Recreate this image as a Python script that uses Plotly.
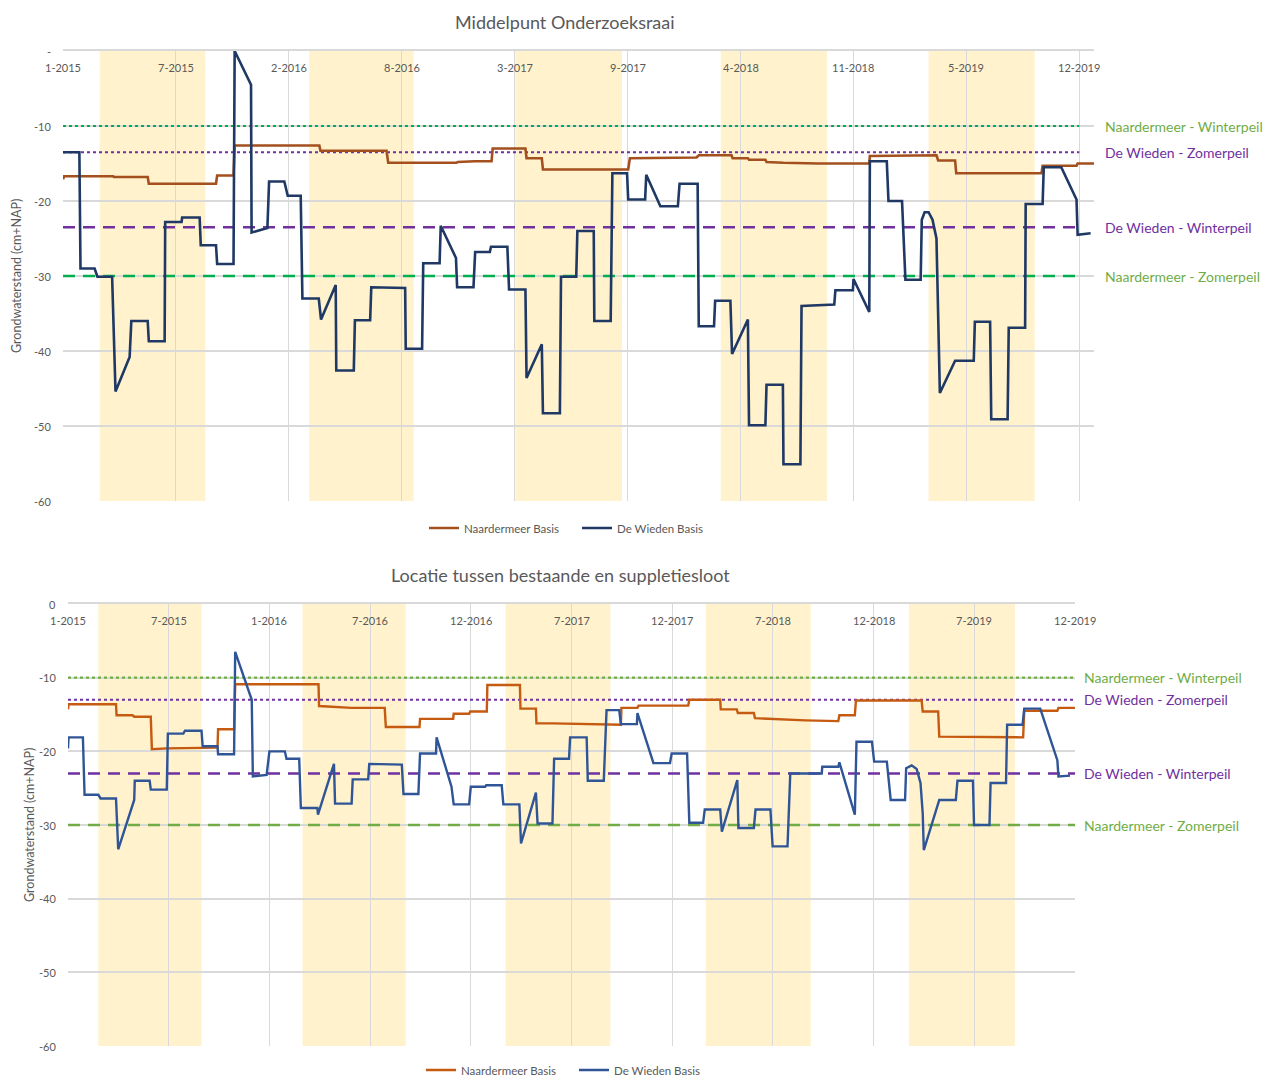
import pandas as pd
import plotly.graph_objects as go

# ---------------- Top chart: Middelpunt Onderzoeksraai ----------------
top_title = "Middelpunt Onderzoeksraai"
top_wieden_dates = [
    "2015-01-01", "2015-01-30", "2015-02-01", "2015-02-26", "2015-03-03", "2015-03-29", "2015-04-04", "2015-04-29",
    "2015-05-02", "2015-05-31", "2015-06-02", "2015-06-30", "2015-07-01", "2015-07-30", "2015-07-31", "2015-08-31",
    "2015-09-02", "2015-09-29", "2015-10-01", "2015-10-30", "2015-11-01", "2015-11-30", "2015-12-01", "2015-12-29",
    "2016-01-01", "2016-01-28", "2016-02-03", "2016-02-26", "2016-02-29", "2016-03-29", "2016-04-02", "2016-04-28",
    "2016-04-29", "2016-05-30", "2016-06-01", "2016-06-28", "2016-06-30", "2016-08-29", "2016-08-30", "2016-09-28",
    "2016-09-30", "2016-10-29", "2016-10-31", "2016-11-27", "2016-11-29", "2016-12-28", "2016-12-31", "2017-01-26",
    "2017-01-28", "2017-02-26", "2017-03-01", "2017-03-30", "2017-04-01", "2017-04-28", "2017-04-30", "2017-05-30",
    "2017-06-01", "2017-06-28", "2017-06-30", "2017-07-29", "2017-07-30", "2017-08-28", "2017-08-31", "2017-09-26",
    "2017-09-28", "2017-10-28", "2017-10-30", "2017-11-24", "2017-12-25", "2017-12-28", "2018-01-29", "2018-01-31",
    "2018-02-27", "2018-03-01", "2018-03-28", "2018-03-31", "2018-04-28", "2018-04-30", "2018-05-29", "2018-05-31",
    "2018-06-29", "2018-06-30", "2018-07-30", "2018-08-01", "2018-09-28", "2018-09-30", "2018-10-31", "2018-11-01",
    "2018-11-29", "2018-11-30", "2018-12-30", "2019-01-02", "2019-01-26", "2019-02-01", "2019-02-28", "2019-03-02",
    "2019-03-07", "2019-03-14", "2019-03-21", "2019-03-28", "2019-04-03", "2019-04-30", "2019-06-02", "2019-06-04",
    "2019-07-01", "2019-07-03", "2019-08-01", "2019-08-03", "2019-09-01", "2019-09-02", "2019-10-02", "2019-10-04",
    "2019-11-04", "2019-12-01", "2019-12-03", "2019-12-26",
]
top_wieden_vals = [
    -13.5, -13.5, -29.0, -29.0, -30.1, -30.1, -45.4, -40.8,
    -36.0, -36.0, -38.7, -38.7, -22.8, -22.8, -22.2, -22.2,
    -25.9, -25.9, -28.4, -28.4, 0.0, -4.5, -24.2, -23.6,
    -17.4, -17.4, -19.3, -19.3, -33.0, -33.0, -35.8, -31.2,
    -42.6, -42.6, -35.9, -35.9, -31.5, -31.6, -39.7, -39.7,
    -28.3, -28.3, -23.3, -27.6, -31.5, -31.5, -26.8, -26.8,
    -26.1, -26.1, -31.8, -31.8, -43.6, -39.1, -48.3, -48.3,
    -30.1, -30.1, -24.0, -24.0, -36.0, -36.0, -16.3, -16.3,
    -19.8, -19.8, -16.5, -20.7, -20.7, -17.7, -17.7, -36.7,
    -36.7, -33.3, -33.3, -40.4, -35.8, -49.9, -49.9, -44.5,
    -44.5, -55.1, -55.1, -34.0, -33.8, -31.9, -31.9, -30.4,
    -34.8, -14.7, -14.7, -20.0, -20.0, -30.5, -30.5, -22.5,
    -21.5, -21.5, -22.5, -25.0, -45.6, -41.3, -41.3, -36.1,
    -36.1, -49.1, -49.1, -36.9, -36.9, -20.4, -20.4, -15.5,
    -15.5, -19.8, -24.5, -24.3,
]
top_naarder_dates = [
    "2015-01-01", "2015-01-03", "2015-03-31", "2015-04-01", "2015-05-31", "2015-06-02", "2015-09-29", "2015-10-01",
    "2015-10-30", "2015-11-01", "2016-03-30", "2016-04-01", "2016-07-27", "2016-07-30", "2016-11-28", "2016-11-30",
    "2016-12-31", "2017-01-29", "2017-01-31", "2017-03-30", "2017-04-01", "2017-04-28", "2017-04-30", "2017-09-28",
    "2017-10-01", "2018-01-27", "2018-01-31", "2018-03-30", "2018-04-01", "2018-04-28", "2018-04-30", "2018-05-29",
    "2018-05-31", "2018-06-29", "2018-06-30", "2018-08-30", "2018-11-29", "2018-11-30", "2019-03-28", "2019-03-31",
    "2019-04-30", "2019-05-02", "2019-09-30", "2019-10-02", "2019-12-01", "2019-12-03", "2020-01-01",
]
top_naarder_vals = [
    -17.1, -16.7, -16.7, -16.8, -16.8, -17.7, -17.7, -16.6,
    -16.6, -12.6, -12.6, -13.3, -13.3, -14.9, -14.9, -14.8,
    -14.7, -14.7, -13.0, -13.0, -14.3, -14.3, -15.8, -15.8,
    -14.3, -14.2, -13.9, -13.9, -14.3, -14.3, -14.5, -14.5,
    -14.8, -14.8, -14.9, -15.0, -15.0, -14.0, -13.9, -14.6,
    -14.6, -16.3, -16.3, -15.3, -15.3, -15.0, -15.0,
]
top_ref_levels = [-10.0, -13.5, -23.5, -30.0]
top_summer_start = ["2015-03-07", "2016-03-12", "2017-03-12", "2018-03-11", "2019-03-14"]
top_summer_end = ["2015-09-10", "2016-09-13", "2017-09-17", "2018-09-15", "2019-09-18"]
top_tick_labels = ["1-2015", "7-2015", "2-2016", "8-2016", "3-2017", "9-2017", "4-2018", "11-2018", "5-2019", "12-2019"]
top_y_ticklabels = ["-60", "-50", "-40", "-30", "-20", "-10", "-"]

# ---------------- Bottom chart: Locatie tussen bestaande en suppletiesloot ----------------
bot_title = "Locatie tussen bestaande en suppletiesloot"
bot_wieden_dates = [
    "2015-01-01", "2015-01-02", "2015-01-28", "2015-01-31", "2015-02-25", "2015-03-01", "2015-03-29", "2015-04-02",
    "2015-05-01", "2015-05-02", "2015-05-29", "2015-05-31", "2015-06-29", "2015-07-01", "2015-07-29", "2015-08-01",
    "2015-08-31", "2015-09-02", "2015-09-29", "2015-09-30", "2015-10-29", "2015-10-31", "2015-11-30", "2015-12-02",
    "2015-12-27", "2016-01-01", "2016-01-29", "2016-02-01", "2016-02-24", "2016-02-27", "2016-03-28", "2016-03-29",
    "2016-04-27", "2016-04-29", "2016-05-29", "2016-05-31", "2016-06-28", "2016-06-30", "2016-08-28", "2016-08-31",
    "2016-09-27", "2016-09-30", "2016-10-29", "2016-10-30", "2016-11-26", "2016-11-30", "2016-12-28", "2016-12-31",
    "2017-01-26", "2017-01-28", "2017-02-25", "2017-02-28", "2017-03-29", "2017-04-01", "2017-04-28", "2017-05-01",
    "2017-05-28", "2017-05-31", "2017-06-27", "2017-06-29", "2017-07-29", "2017-07-31", "2017-08-29", "2017-09-03",
    "2017-09-26", "2017-09-29", "2017-10-28", "2017-10-29", "2017-11-27", "2017-12-27", "2017-12-30", "2018-01-27",
    "2018-01-31", "2018-02-25", "2018-02-28", "2018-03-28", "2018-03-31", "2018-04-28", "2018-04-30", "2018-05-28",
    "2018-05-31", "2018-06-27", "2018-07-01", "2018-07-28", "2018-08-02", "2018-09-28", "2018-09-29", "2018-10-28",
    "2018-10-30", "2018-11-27", "2018-11-30", "2018-12-28", "2019-01-01", "2019-01-24", "2019-01-31", "2019-02-26",
    "2019-02-28", "2019-03-10", "2019-03-19", "2019-03-26", "2019-03-30", "2019-04-01", "2019-04-29", "2019-05-29",
    "2019-06-01", "2019-06-29", "2019-07-01", "2019-07-29", "2019-07-31", "2019-08-28", "2019-08-30", "2019-09-27",
    "2019-09-30", "2019-10-29", "2019-11-29", "2019-12-01", "2019-12-22",
]
bot_wieden_vals = [
    -19.6, -18.1, -18.1, -25.9, -25.9, -26.4, -26.4, -33.3,
    -26.6, -24.0, -24.0, -25.2, -25.2, -17.6, -17.6, -17.2,
    -17.2, -19.3, -19.3, -20.4, -20.4, -6.5, -13.0, -23.4,
    -23.2, -20.0, -20.0, -21.0, -21.0, -27.7, -27.7, -28.6,
    -21.7, -27.1, -27.1, -23.8, -23.8, -21.7, -21.8, -25.8,
    -25.8, -20.3, -20.3, -18.1, -24.8, -27.2, -27.2, -24.8,
    -24.8, -24.6, -24.6, -27.2, -27.2, -32.5, -25.6, -29.8,
    -29.8, -21.0, -21.0, -18.1, -18.1, -24.0, -24.0, -14.4,
    -14.4, -16.3, -16.3, -14.8, -21.6, -21.6, -20.3, -20.3,
    -29.7, -29.7, -27.9, -27.9, -30.9, -23.9, -30.4, -30.4,
    -27.9, -27.9, -32.9, -32.9, -23.0, -23.0, -22.1, -22.1,
    -21.5, -28.6, -18.7, -18.7, -21.4, -21.4, -26.6, -26.6,
    -22.3, -21.9, -22.4, -24.3, -28.4, -33.4, -26.6, -26.6,
    -24.0, -24.0, -30.0, -30.0, -24.3, -24.3, -16.4, -16.4,
    -14.2, -14.2, -21.2, -23.4, -23.3,
]
bot_naarder_dates = [
    "2015-01-01", "2015-01-02", "2015-03-29", "2015-03-30", "2015-04-28", "2015-05-01", "2015-05-31", "2015-06-02",
    "2015-06-29", "2015-08-31", "2015-09-29", "2015-09-30", "2015-10-29", "2015-10-31", "2016-03-30", "2016-03-31",
    "2016-05-29", "2016-07-28", "2016-07-30", "2016-09-29", "2016-09-30", "2016-11-29", "2016-11-30", "2016-12-28",
    "2016-12-30", "2017-01-29", "2017-01-30", "2017-03-30", "2017-03-31", "2017-04-28", "2017-04-29", "2017-05-28",
    "2017-07-29", "2017-09-29", "2017-09-30", "2017-10-29", "2017-10-31", "2018-01-29", "2018-01-31", "2018-03-28",
    "2018-03-29", "2018-04-27", "2018-04-29", "2018-05-28", "2018-05-30", "2018-06-27", "2018-07-29", "2018-08-29",
    "2018-10-28", "2018-10-30", "2018-11-27", "2018-11-29", "2019-03-28", "2019-03-30", "2019-04-27", "2019-04-29",
    "2019-09-28", "2019-09-30", "2019-11-29", "2019-12-01", "2019-12-31",
]
bot_naarder_vals = [
    -14.3, -13.6, -13.6, -15.1, -15.1, -15.3, -15.3, -19.7,
    -19.6, -19.6, -19.5, -17.0, -17.0, -10.9, -10.9, -13.85,
    -14.1, -14.1, -16.7, -16.7, -15.6, -15.6, -14.9, -14.9,
    -14.6, -14.6, -11.0, -11.0, -14.2, -14.2, -16.2, -16.2,
    -16.3, -16.4, -14.1, -14.1, -13.8, -13.8, -13.0, -13.0,
    -14.3, -14.3, -14.8, -14.8, -15.5, -15.6, -15.75, -15.8,
    -15.9, -15.1, -15.1, -13.1, -13.1, -14.6, -14.6, -18.0,
    -18.1, -14.5, -14.5, -14.1, -14.1,
]
bot_ref_levels = [-10.0, -13.0, -23.0, -30.0]
bot_summer_start = ["2015-02-25", "2016-03-01", "2017-03-04", "2018-03-02", "2019-03-05"]
bot_summer_end = ["2015-08-31", "2016-09-04", "2017-09-10", "2018-09-08", "2019-09-13"]
bot_tick_labels = ["1-2015", "7-2015", "1-2016", "7-2016", "12-2016", "7-2017", "12-2017", "7-2018", "12-2018", "7-2019", "12-2019"]
bot_y_ticklabels = ["-60", "-50", "-40", "-30", "-20", "-10", "0"]

ref_names = ["Naardermeer - Winterpeil", "De Wieden - Zomerpeil", "De Wieden - Winterpeil", "Naardermeer - Zomerpeil"]
series_names = ["Naardermeer Basis", "De Wieden Basis"]
y_ticks = [-60, -50, -40, -30, -20, -10, 0]

# ---------------- styling ----------------
FONT = "Lato, 'Open Sans', sans-serif"
GREY = "#595959"
GRID = "#D9D9D9"
SUMMER = "#FFF2CC"
PURPLE = "#7030A0"
OFF = 8                      # page body margin
FW, FH = 1280 - OFF, 1076 - OFF


def px_x(p):
    return (p - OFF) / FW


def px_y(p):
    return 1 - (p - OFF) / FH


fig = go.Figure()

panels = [
    dict(xa="x", ya="y", title=top_title, wd=top_wieden_dates, wv=top_wieden_vals,
         nd=top_naarder_dates, nv=top_naarder_vals, refs=top_ref_levels,
         s0=top_summer_start, s1=top_summer_end, ticklabels=top_tick_labels, yt=top_y_ticklabels,
         start="2015-01-01", step="200D", rng_end="2020-01-01", ref_end="2019-12-06",
         ncol="#A3501E", wcol="#1F3864", green_line="#00B050", green_txt="#70AD47", lw=2.6,
         xdom=[px_x(63), px_x(1094)], ydom=[px_y(501), px_y(51)],
         title_xy=(565, 22), ytitle_x=17, label_x=1103, legend="legend", leg_xy=(424, 528)),
    dict(xa="x2", ya="y2", title=bot_title, wd=bot_wieden_dates, wv=bot_wieden_vals,
         nd=bot_naarder_dates, nv=bot_naarder_vals, refs=bot_ref_levels,
         s0=bot_summer_start, s1=bot_summer_end, ticklabels=bot_tick_labels, yt=bot_y_ticklabels,
         start="2015-01-01", step="4380h", rng_end="2019-12-31", ref_end="2019-12-31",
         ncol="#C55A11", wcol="#2F5597", green_line="#70AD47", green_txt="#70AD47", lw=2.4,
         xdom=[px_x(68), px_x(1075)], ydom=[px_y(1046), px_y(604)],
         title_xy=(560, 575), ytitle_x=29, label_x=1082, legend="legend2", leg_xy=(421, 1070)),
]

shapes = []
annotations = []
layout_axes = {}

for i, p in enumerate(panels):
    xa, ya = p["xa"], p["ya"]
    ref_styles = [
        (p["green_line"], "dot", 2.2, p["green_txt"]),
        (PURPLE, "dot", 2.2, PURPLE),
        (PURPLE, "12px,8px", 2.5, PURPLE),
        (p["green_line"], "12px,8px", 2.5, p["green_txt"]),
    ]
    # reference levels
    for name, lvl, (lc, dash, lw, tc) in zip(ref_names, p["refs"], ref_styles):
        fig.add_trace(go.Scatter(x=[p["start"], p["ref_end"]], y=[lvl, lvl], mode="lines",
                                 line=dict(color=lc, dash=dash, width=lw), showlegend=False,
                                 hoverinfo="skip", xaxis=xa, yaxis=ya))
        annotations.append(dict(text=name, xref="paper", yref=ya, x=px_x(p["label_x"]), y=lvl,
                                xanchor="left", yanchor="middle", showarrow=False,
                                font=dict(family=FONT, size=14, color=tc)))
    # measured series
    fig.add_trace(go.Scatter(x=p["nd"], y=p["nv"], mode="lines", name=series_names[0],
                             line=dict(color=p["ncol"], width=p["lw"]), xaxis=xa, yaxis=ya,
                             legend=p["legend"]))
    fig.add_trace(go.Scatter(x=p["wd"], y=p["wv"], mode="lines", name=series_names[1],
                             line=dict(color=p["wcol"], width=p["lw"]), xaxis=xa, yaxis=ya,
                             legend=p["legend"]))
    # summer bands
    for a, b in zip(p["s0"], p["s1"]):
        shapes.append(dict(type="rect", xref=xa, yref=ya + " domain", x0=a, x1=b, y0=0, y1=1,
                           fillcolor=SUMMER, line=dict(width=0), layer="below"))
    tickvals = list(pd.date_range(p["start"], periods=len(p["ticklabels"]), freq=p["step"]))
    # x tick labels (just under the top axis line, inside the plot)
    for tv, tt in zip(tickvals, p["ticklabels"]):
        annotations.append(dict(text=tt, xref=xa, yref=ya + " domain", x=tv, y=1, yshift=-16,
                                xanchor="center", yanchor="middle", showarrow=False,
                                font=dict(family=FONT, size=11, color=GREY)))
    # y tick labels
    for yv, yt in zip(y_ticks, p["yt"]):
        annotations.append(dict(text=yt, xref="paper", yref=ya, x=p["xdom"][0], y=yv, xshift=-10,
                                xanchor="right", yanchor="middle", showarrow=False,
                                font=dict(family=FONT, size=11, color=GREY)))
    sfx = "" if i == 0 else "2"
    layout_axes["xaxis" + sfx] = dict(
        domain=p["xdom"], anchor=ya, type="date", range=[p["start"], p["rng_end"]],
        side="top", tickvals=tickvals, showticklabels=False, ticks="", showgrid=True,
        gridcolor=GRID, gridwidth=1.2, showline=True, linecolor=GRID, linewidth=1.5,
        zeroline=False, fixedrange=True, automargin=False)
    layout_axes["yaxis" + sfx] = dict(
        domain=p["ydom"], anchor=xa, range=[-60, 0], tickvals=y_ticks, showticklabels=False,
        ticks="", showgrid=True, gridcolor=GRID, gridwidth=1.5,
        zeroline=False, showline=False, fixedrange=True, automargin=False)
    annotations.append(dict(text=p["title"], xref="paper", yref="paper",
                            x=px_x(p["title_xy"][0]), y=px_y(p["title_xy"][1]),
                            xanchor="center", yanchor="middle", showarrow=False,
                            font=dict(family=FONT, size=18, color=GREY)))
    annotations.append(dict(text="Grondwaterstand (cm+NAP)", xref="paper", yref="paper",
                            x=px_x(p["ytitle_x"]), y=sum(p["ydom"]) / 2, textangle=-90,
                            xanchor="center", yanchor="middle", showarrow=False,
                            font=dict(family=FONT, size=12.5, color=GREY)))
    layout_axes[p["legend"]] = dict(
        orientation="h", x=px_x(p["leg_xy"][0]), y=px_y(p["leg_xy"][1]), xanchor="left",
        yanchor="middle", bgcolor="rgba(0,0,0,0)",
        font=dict(family=FONT, size=11.5, color=GREY), itemwidth=30, tracegroupgap=0,
        entrywidth=108, entrywidthmode="pixels")

fig.update_layout(
    width=FW, height=FH, margin=dict(l=0, r=0, t=0, b=0, autoexpand=False), paper_bgcolor="white",
    plot_bgcolor="white", shapes=shapes, annotations=annotations, showlegend=True,
    font=dict(family=FONT, color=GREY), **layout_axes)

fig.write_html("out.html")
